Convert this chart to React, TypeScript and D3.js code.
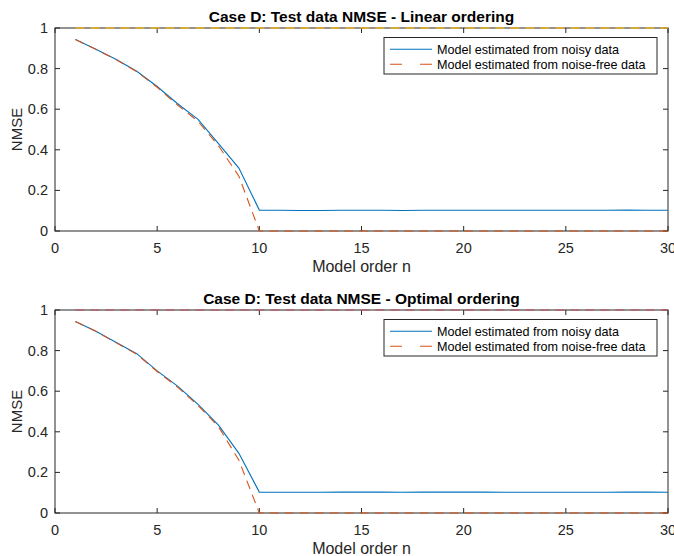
import React from "react";
import * as d3 from "d3";

const orders = d3.range(1, 31);
const linearNoisy = [0.943, 0.895, 0.845, 0.787, 0.712, 0.627, 0.55, 0.43, 0.31, 0.103, 0.102, 0.101, 0.101, 0.102, 0.102, 0.102, 0.101, 0.102, 0.102, 0.102, 0.102, 0.102, 0.102, 0.102, 0.102, 0.102, 0.102, 0.103, 0.102, 0.102];
const linearClean = [0.943, 0.895, 0.843, 0.785, 0.708, 0.62, 0.54, 0.42, 0.27, 0, 0, 0, 0, 0, 0, 0, 0, 0, 0, 0, 0, 0, 0, 0, 0, 0, 0, 0, 0, 0];
const optimalNoisy = [0.943, 0.895, 0.84, 0.785, 0.7, 0.625, 0.535, 0.433, 0.294, 0.103, 0.102, 0.102, 0.102, 0.103, 0.103, 0.103, 0.102, 0.103, 0.103, 0.103, 0.103, 0.102, 0.102, 0.102, 0.102, 0.102, 0.102, 0.103, 0.103, 0.102];
const optimalClean = [0.943, 0.895, 0.838, 0.782, 0.697, 0.62, 0.53, 0.425, 0.26, 0, 0, 0, 0, 0, 0, 0, 0, 0, 0, 0, 0, 0, 0, 0, 0, 0, 0, 0, 0, 0];
const referenceLevel = orders.map(() => 1);
const xTicks = [0, 5, 10, 15, 20, 25, 30];
const yTicks = [0, 0.2, 0.4, 0.6, 0.8, 1];
const titles = ["Case D: Test data NMSE - Linear ordering", "Case D: Test data NMSE - Optimal ordering"];
const legendLabels = ["Model estimated from noisy data", "Model estimated from noise-free data"];
const xLabel = "Model order n";
const yLabel = "NMSE";

const FONT = "'Liberation Sans', Arial, Helvetica, sans-serif";
const AX = "#262626";
const BLUE = "#0072BD";
const ORANGE = "#D95319";

type PanelProps = {
  top: number;
  bottom: number;
  title: string;
  noisy: number[];
  clean: number[];
  refColor: string;
};

function Panel({ top, bottom, title, noisy, clean, refColor }: PanelProps) {
  const left = 55;
  const right = 668;
  const x = d3.scaleLinear().domain([0, 30]).range([left, right]);
  const y = d3.scaleLinear().domain([0, 1]).range([bottom, top]);
  const line = d3
    .line<number>()
    .x((_, i) => x(orders[i]))
    .y((d) => y(d));
  const tl = 5;
  const legTop = top + 9.5;
  const legLeft = 384;
  const legRight = 657;
  return (
    <g>
      <rect x={left} y={top} width={right - left} height={bottom - top} fill="#fff" stroke={AX} strokeWidth={1} />
      {xTicks.map((t) => (
        <g key={"x" + t}>
          <line x1={x(t)} x2={x(t)} y1={bottom} y2={bottom - tl} stroke={AX} />
          <line x1={x(t)} x2={x(t)} y1={top} y2={top + tl} stroke={AX} />
          <text x={x(t)} y={bottom + 21.5} textAnchor="middle" fontSize={14.5} fill={AX} fontFamily={FONT}>
            {t}
          </text>
        </g>
      ))}
      {yTicks.map((t) => (
        <g key={"y" + t}>
          <line x1={left} x2={left + tl} y1={y(t)} y2={y(t)} stroke={AX} />
          <line x1={right} x2={right - tl} y1={y(t)} y2={y(t)} stroke={AX} />
          <text x={left - 7} y={y(t) + 5} textAnchor="end" fontSize={14.5} fill={AX} fontFamily={FONT}>
            {t}
          </text>
        </g>
      ))}
      <path d={line(referenceLevel) || ""} fill="none" stroke={refColor} strokeWidth={1.3} strokeDasharray="9,6" />
      <path d={line(noisy) || ""} fill="none" stroke={BLUE} strokeWidth={1.1} />
      <path d={line(clean) || ""} fill="none" stroke={ORANGE} strokeWidth={1.1} strokeDasharray="9,6" />
      <rect x={legLeft} y={legTop} width={legRight - legLeft} height={36.5} fill="#fff" stroke={AX} strokeWidth={1} />
      <line x1={390} x2={432} y1={legTop + 11.8} y2={legTop + 11.8} stroke={BLUE} strokeWidth={1.1} />
      <line x1={390} x2={432} y1={legTop + 26.8} y2={legTop + 26.8} stroke={ORANGE} strokeWidth={1.1} strokeDasharray="12,18" />
      <text x={437} y={legTop + 16.2} fontSize={12.6} fill="#000" fontFamily={FONT}>
        {legendLabels[0]}
      </text>
      <text x={437} y={legTop + 31.2} fontSize={12.6} fill="#000" fontFamily={FONT}>
        {legendLabels[1]}
      </text>
      <text x={(left + right) / 2} y={top - 6.5} textAnchor="middle" fontSize={15.5} fontWeight="bold" fill="#000" fontFamily={FONT}>
        {title}
      </text>
      <text x={(left + right) / 2} y={bottom + 41} textAnchor="middle" fontSize={16} fill={AX} fontFamily={FONT}>
        {xLabel}
      </text>
      <text
        transform={`translate(22,${(top + bottom) / 2}) rotate(-90)`}
        textAnchor="middle"
        fontSize={15}
        fill={AX}
        fontFamily={FONT}
      >
        {yLabel}
      </text>
    </g>
  );
}

export default function App() {
  return (
    <svg width={674} height={556} style={{ position: "absolute", left: 0, top: 0, background: "#fff" }}>
      <rect x={0} y={0} width={674} height={556} fill="#fff" />
      <Panel top={28} bottom={231} title={titles[0]} noisy={linearNoisy} clean={linearClean} refColor="#EDB120" />
      <Panel top={310} bottom={513} title={titles[1]} noisy={optimalNoisy} clean={optimalClean} refColor="#b5646f" />
    </svg>
  );
}
